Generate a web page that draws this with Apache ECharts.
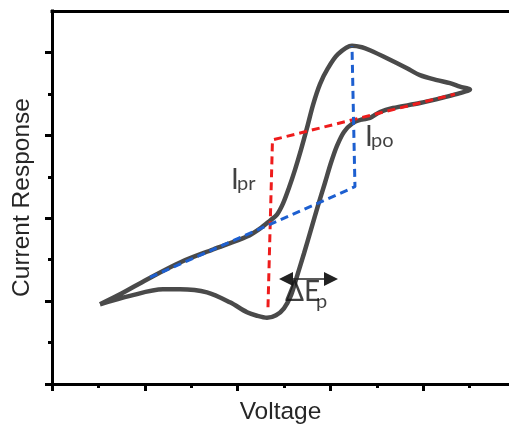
<!DOCTYPE html>
<html><head><meta charset="utf-8">
<script src="https://cdn.jsdelivr.net/npm/echarts@6/dist/echarts.min.js"></script>
<style>html,body{margin:0;padding:0;background:#fff}#c{width:509px;height:430px}</style>
</head><body><div id="c"></div><script>
// Forward (upper) branch of the voltammogram
const upperX = [1.034,1.466,2.047,2.759,3.470,4.203,4.483,4.698,4.849,4.978,5.108,5.237,5.366,5.496,5.625,5.776,5.948,6.164,6.466,6.681,6.853,7.220,7.651,7.931,8.297,8.578,8.793,9.009];
const upperY = [1.923,2.163,2.524,2.933,3.245,3.558,3.750,3.942,4.087,4.351,4.736,5.168,5.649,6.178,6.731,7.236,7.620,7.957,8.161,8.125,8.053,7.861,7.620,7.452,7.332,7.260,7.175,7.103];
// Reverse (lower) branch
const lowerX = [8.793,8.513,7.931,7.349,7.069,6.853,6.681,6.487,6.293,6.142,6.013,5.884,5.733,5.582,5.431,5.280,5.151,5.000,4.828,4.634,4.418,4.203,3.836,3.341,2.759,2.392,1.681,1.034];
const lowerY = [7.019,6.935,6.779,6.659,6.563,6.418,6.382,6.298,6.082,5.745,5.337,4.856,4.303,3.726,3.149,2.596,2.139,1.827,1.659,1.599,1.647,1.731,1.971,2.212,2.284,2.284,2.127,1.923];
// Guide lines
const redGuideX = [4.655,4.752,8.685];
const redGuideY = [1.851,5.889,6.995];
const blueGuideX = [2.112,6.530,6.466];
const blueGuideY = [2.572,4.760,8.149];
// Peak separation arrow
const arrowX = [5.043,6.013];
const arrowY = [2.536,2.536];
// Annotation texts and anchors (data units)
const labelTexts = ['I','pr','I','po','ΔE','p'];
const labelX = [3.858,3.987,6.746,6.875,5.022,5.690];
const labelY = [4.928,4.832,5.962,5.865,2.212,1.995];
// Ticks
const xMajorTicks = [0,2,4,6,8];
const xMinorTicks = [1,3,5,7,9];
const yMajorTicks = [0,2,4,6,8];
const yMinorTicks = [1,3,5,7];
const xName = 'Voltage';
const yName = 'Current Response';

const XMAX = 9.85, YMAX = 9;
const zip = (a,b)=>a.map((v,i)=>[v,b[i]]);
const loop = zip(upperX,upperY).concat(zip(lowerX,lowerY));
const labelSizes = [28,20,28,20,28,20];

const nameStyle = {fontFamily:'Liberation Sans', fontSize:24.5, color:'#262626'};
const axisBase = (extra)=>Object.assign({
  type:'value', min:0, splitLine:{show:false}, axisLabel:{show:false}
}, extra);

const chart = echarts.init(document.getElementById('c'));
chart.setOption({
  animation:false,
  grid:{left:52, top:11, right:0, bottom:45, containLabel:false},
  xAxis:[
    axisBase({max:XMAX, position:'bottom',
      axisLine:{show:true, onZero:false, lineStyle:{color:'#000', width:3, cap:'square'}},
      axisTick:{show:true, customValues:xMajorTicks, length:7, lineStyle:{color:'#000', width:3}},
      name:xName, nameLocation:'middle', nameGap:16, nameTextStyle:nameStyle}),
    axisBase({max:XMAX, position:'bottom',
      axisLine:{show:false},
      axisTick:{show:true, customValues:xMinorTicks, length:4, lineStyle:{color:'#000', width:3}}}),
    axisBase({max:XMAX, position:'top',
      axisLine:{show:true, onZero:false, lineStyle:{color:'#000', width:3, cap:'square'}},
      axisTick:{show:false}})
  ],
  yAxis:[
    axisBase({max:YMAX, position:'left',
      axisLine:{show:true, onZero:false, lineStyle:{color:'#000', width:3, cap:'square'}},
      axisTick:{show:true, customValues:yMajorTicks, length:7, lineStyle:{color:'#000', width:3}},
      name:yName, nameLocation:'middle', nameGap:17, nameTextStyle:nameStyle}),
    axisBase({max:YMAX, position:'left',
      axisLine:{show:false},
      axisTick:{show:true, customValues:yMinorTicks, length:4, lineStyle:{color:'#000', width:3}}})
  ],
  series:[
    {type:'line', data:loop, showSymbol:false, smooth:0.3, z:2,
     lineStyle:{color:'#4a4a4a', width:4.5}, silent:true,
     markLine:{silent:true, symbol:['triangle','triangle'], symbolSize:[14,14],
       label:{show:false}, lineStyle:{color:'#222', width:1.5, type:'solid'},
       data:[[{coord:[arrowX[0],arrowY[0]]},{coord:[arrowX[1],arrowY[1]]}]]}},
    {type:'line', data:zip(redGuideX,redGuideY), showSymbol:false, z:3, silent:true,
     lineStyle:{color:'#ee1c1c', width:3, type:[8,5]}},
    {type:'line', data:zip(blueGuideX,blueGuideY), showSymbol:false, z:3, silent:true,
     lineStyle:{color:'#1d5fd0', width:3, type:[8,5]}},
    {type:'scatter', symbolSize:0, z:5, silent:true,
     data:labelTexts.map((t,i)=>({value:[labelX[i],labelY[i]],
       label:{show:true, position:'right', distance:0, formatter:t,
         fontFamily:'Lato', fontSize:labelSizes[i], color:'#111'}}))}
  ]
});
</script></body></html>
